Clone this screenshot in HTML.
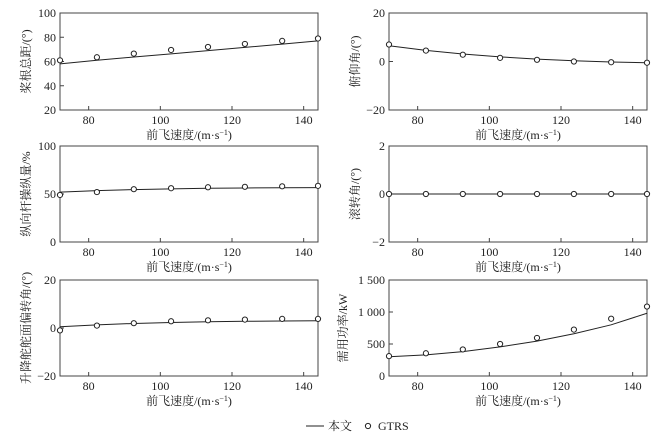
<!DOCTYPE html>
<html><head><meta charset="utf-8"><style>
body{margin:0;background:#fff;}
svg{display:block;font-family:"Liberation Serif","Noto Serif CJK SC",serif;}
</style></head><body>
<svg id="c" width="662" height="440"></svg>
<script>
const xVals=[72,82.3,92.6,103,113.3,123.6,134,144];
const gtrsCollective=[61,63.5,66.5,69.5,72,74.5,77,79];
const lineCollective=[58,61,63.7,66.3,69,71.6,74.3,77];
const gtrsPitch=[7,4.5,2.8,1.5,0.7,0,-0.3,-0.5];
const linePitch=[6.5,4.6,3.1,1.9,1,0.3,-0.2,-0.5];
const gtrsLong=[49,52,55,56,57,57.5,58,58.5];
const lineLong=[52,53.5,54.6,55.4,56,56.3,56.5,56.6];
const gtrsRoll=[0,0,0,0,0,0,0,0];
const lineRoll=[0,0,0,0,0,0,0,0];
const gtrsElev=[-1,1,2,2.8,3.2,3.5,3.8,3.8];
const lineElev=[0.5,1.3,1.9,2.3,2.6,2.8,2.9,3];
const gtrsPower=[310,355,415,500,595,725,895,1085];
const linePower=[300,330,380,455,545,660,800,980];
const xTicks=[80,100,120,140];
const panels=[
 {name:'collective',x0:60,x1:318,y0:13,y1:110,ymin:20,ymax:100,yt:[20,40,60,80,100],yl:v=>''+v,t:'桨根总距/(°)',g:gtrsCollective,l:lineCollective},
 {name:'pitch',x0:389,x1:647,y0:13,y1:110,ymin:-20,ymax:20,yt:[-20,0,20],yl:v=>v<0?'−'+(-v):''+v,t:'俯仰角/(°)',g:gtrsPitch,l:linePitch},
 {name:'longitudinal-stick',x0:60,x1:318,y0:146,y1:242,ymin:0,ymax:100,yt:[0,50,100],yl:v=>''+v,t:'纵向杆操纵量/%',g:gtrsLong,l:lineLong},
 {name:'roll',x0:389,x1:647,y0:146,y1:242,ymin:-2,ymax:2,yt:[-2,0,2],yl:v=>v<0?'−'+(-v):''+v,t:'滚转角/(°)',g:gtrsRoll,l:lineRoll},
 {name:'elevator',x0:60,x1:318,y0:280,y1:376,ymin:-20,ymax:20,yt:[-20,0,20],yl:v=>v<0?'−'+(-v):''+v,t:'升降舵舵面偏转角/(°)',g:gtrsElev,l:lineElev},
 {name:'power',x0:389,x1:647,y0:280,y1:376,ymin:0,ymax:1500,yt:[0,500,1000,1500],yl:v=>v>=1000?String(v).replace(/(\d)(\d{3})$/,'$1 $2'):''+v,t:'需用功率/kW',g:gtrsPower,l:linePower}
];
const svg=document.getElementById('c');
const NS='http://www.w3.org/2000/svg';
function mk(tag,attrs,parent){const e=document.createElementNS(NS,tag);for(const k in attrs)e.setAttribute(k,attrs[k]);(parent||svg).appendChild(e);return e;}
panels.forEach(p=>{
 const g=mk('g',{});
 
 
 const sx=v=>p.x0+(v-72)/(144-72)*(p.x1-p.x0);
 const sy=v=>p.y1-(v-p.ymin)/(p.ymax-p.ymin)*(p.y1-p.y0);
 const r=mk('rect',{x:p.x0,y:p.y0,width:p.x1-p.x0,height:p.y1-p.y0,fill:'none',stroke:'#444','stroke-width':1},g);
 
 
 xTicks.forEach(v=>{
  mk('line',{x1:sx(v),x2:sx(v),y1:p.y1,y2:p.y1-4,stroke:'#444'},g);
  const t=mk('text',{x:sx(v),y:p.y1+14,'text-anchor':'middle','font-size':12,fill:'#222'},g);
  t.textContent=v;
  
  
 });
 p.yt.forEach(v=>{
  mk('line',{x1:p.x0,x2:p.x0+4,y1:sy(v),y2:sy(v),stroke:'#444'},g);
  const t=mk('text',{x:p.x0-4,y:sy(v)+4,'text-anchor':'end','font-size':12,fill:'#222'},g);
  t.textContent=p.yl(v);
  
  
 });
 const xt=mk('text',{x:(p.x0+p.x1)/2,y:p.y1+29,'text-anchor':'middle','font-size':12,fill:'#222'},g);
 xt.innerHTML='前飞速度/(m·s<tspan dy="-4" font-size="8">−1</tspan><tspan dy="4">)</tspan>';
 
 
 const cy=(p.y0+p.y1)/2, cx=p.x0-(p.name==='power'?42:30);
 const yt=mk('text',{x:cx,y:cy,'text-anchor':'middle','font-size':12,fill:'#222',transform:`rotate(-90 ${cx} ${cy})`},g);
 yt.textContent=p.t;
 
 
 const pl=mk('polyline',{points:p.l.map((v,i)=>sx(xVals[i])+','+sy(v)).join(' '),fill:'none',stroke:'#222','stroke-width':1},g);
 
 
 p.g.forEach((v,i)=>{
  const c=mk('circle',{cx:sx(xVals[i]),cy:sy(v),r:2.6,fill:'#fff',stroke:'#222','stroke-width':1},g);
  
  
 });
});
const lg=mk('g',{});


mk('line',{x1:306,x2:324,y1:426,y2:426,stroke:'#222'},lg);
const t1=mk('text',{x:328,y:430,'font-size':12,fill:'#222'},lg);t1.textContent='本文';


mk('circle',{cx:368,cy:426,r:2.6,fill:'#fff',stroke:'#222'},lg);
const t2=mk('text',{x:378,y:430,'font-size':12,fill:'#222'},lg);t2.textContent='GTRS';


</script>
</body></html>
